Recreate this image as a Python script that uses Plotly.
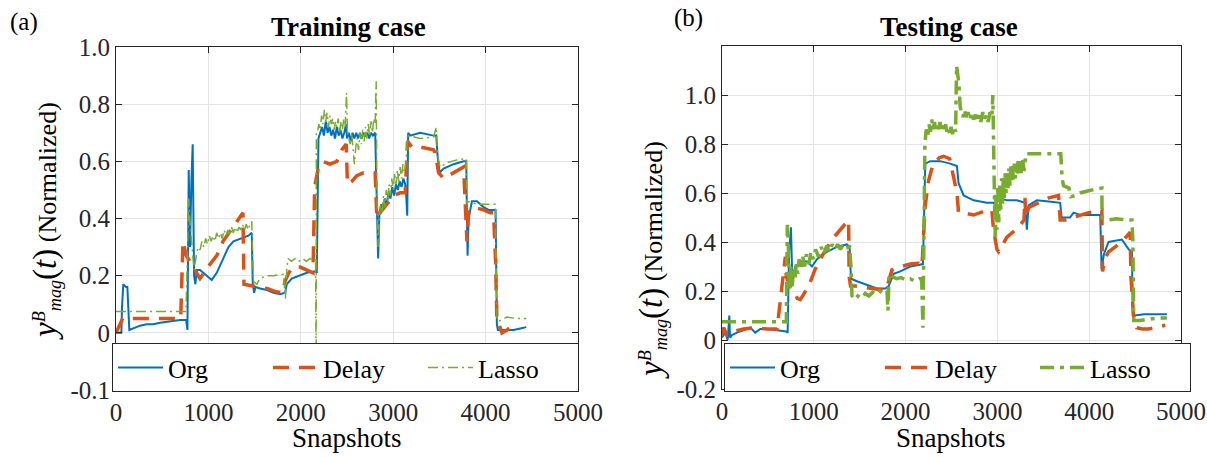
import plotly.graph_objects as go

# ---------------- (a) Training case ----------------
a_org_x = [0, 58, 65, 79, 108, 123, 144, 188, 260, 332, 404, 477, 585, 693, 758, 773, 787, 801, 816, 830, 845, 859, 874,
           910, 982, 1036, 1090, 1162, 1217, 1271, 1343, 1433, 1469, 1480, 1495, 1509, 1560, 1632, 1704, 1776, 1830, 1848,
           1902, 1993, 2065, 2155, 2173, 2191,
           2209, 2230, 2250, 2270, 2290, 2310, 2330, 2350, 2370, 2390, 2410, 2430, 2450, 2470, 2490, 2500, 2520, 2540,
           2560, 2580, 2600, 2620, 2640, 2660, 2680, 2700, 2720, 2740, 2760, 2780, 2805,
           2823, 2837, 2851, 2870, 2890, 2910, 2930, 2950, 2970, 2990, 3010, 3030, 3050, 3070, 3090, 3110, 3130, 3141,
           3152, 3162, 3184, 3292, 3437, 3466, 3480, 3502, 3545, 3653, 3762, 3791, 3798, 3805, 3816, 3852, 3906, 3978,
           4032, 4086, 4108, 4122, 4133, 4195, 4303, 4375, 4440]
a_org_y = [0.0, 0.0, 0.09, 0.17, 0.16, 0.16, 0.01, 0.015, 0.025, 0.03, 0.03, 0.035, 0.04, 0.045, 0.045, 0.01, 0.57, 0.30,
           0.53, 0.66, 0.20, 0.17, 0.22,
           0.22, 0.20, 0.185, 0.21, 0.26, 0.30, 0.32, 0.33, 0.34, 0.35, 0.17, 0.14, 0.16, 0.155, 0.15, 0.14, 0.135, 0.14,
           0.17, 0.19, 0.20, 0.21, 0.215, 0.21, 0.68,
           0.70, 0.72, 0.69, 0.74, 0.70, 0.72, 0.69, 0.71, 0.68, 0.72, 0.69, 0.71, 0.68, 0.70, 0.73, 0.68, 0.70, 0.67,
           0.70, 0.68, 0.70, 0.68, 0.70, 0.68, 0.70, 0.69, 0.70, 0.68, 0.70, 0.69, 0.70,
           0.45, 0.26, 0.42, 0.45, 0.43, 0.47, 0.45, 0.49, 0.47, 0.51, 0.48, 0.52, 0.50, 0.53, 0.51, 0.54, 0.52, 0.48,
           0.41, 0.70, 0.69, 0.70, 0.69, 0.69, 0.62, 0.56, 0.575, 0.59, 0.60, 0.60, 0.40, 0.27, 0.40, 0.46, 0.46, 0.44,
           0.43, 0.43, 0.43, 0.03, 0.01, 0.01, 0.01, 0.015, 0.02]

a_delay_x = [0, 43, 72, 188, 368, 549, 614, 700, 725, 760, 800, 855, 909, 1017, 1090, 1158, 1271, 1374, 1385, 1450,
             1540, 1634, 1720, 1800, 1829, 1870, 1915, 1993, 2067, 2132, 2150, 2190, 2238, 2317, 2390, 2444, 2491,
             2505, 2552, 2606, 2679, 2805, 2823, 2859, 2931, 3004, 3076, 3130, 3155, 3202, 3292, 3437, 3455, 3491,
             3545, 3653, 3726, 3762, 3780, 3798, 3816, 3870, 3978, 4050, 4086, 4108, 4122, 4177, 4231, 4303]
a_delay_y = [0.0, 0.03, 0.05, 0.05, 0.05, 0.05, 0.05, 0.05, 0.32, 0.27, 0.25, 0.22, 0.19, 0.24, 0.27, 0.32, 0.37, 0.42,
             0.17, 0.165, 0.16, 0.155, 0.145, 0.14, 0.18, 0.21, 0.23, 0.23, 0.22, 0.21, 0.51, 0.58, 0.60, 0.59, 0.60,
             0.64, 0.66, 0.52, 0.53, 0.55, 0.56, 0.56, 0.40, 0.42, 0.45, 0.48, 0.49, 0.49, 0.67, 0.65, 0.65, 0.64,
             0.63, 0.56, 0.54, 0.56, 0.57, 0.58, 0.45, 0.32, 0.42, 0.44, 0.43, 0.42, 0.42, 0.25, 0.05, 0.0, 0.01, 0.03]

a_lasso_x = [0, 758, 773, 787, 801, 823, 845, 874, 890, 910, 930, 950, 970, 990, 1010, 1030, 1050, 1070, 1090, 1110,
             1130, 1150, 1170, 1190, 1210, 1230, 1250, 1270, 1290, 1310, 1330, 1350, 1370, 1390, 1410, 1430, 1450,
             1469, 1487, 1523, 1560, 1632, 1704, 1812, 1834, 1848, 1862, 1900, 1940, 1980, 2020, 2060, 2100, 2140,
             2160, 2166, 2168,
             2180, 2195, 2210, 2225, 2240, 2255, 2270, 2285, 2300, 2315, 2330, 2345, 2360, 2375, 2390, 2405, 2420, 2435,
             2450, 2465, 2480, 2495, 2505, 2520, 2535, 2550, 2565, 2580, 2595, 2610, 2625, 2640, 2655, 2670, 2685, 2700,
             2715, 2730, 2745, 2760, 2775, 2790, 2805, 2816, 2823, 2837,
             2850, 2865, 2880, 2895, 2910, 2925, 2940, 2955, 2970, 2985, 3000, 3015, 3030, 3045, 3060, 3075, 3090, 3105,
             3120, 3141, 3150, 3166, 3292, 3437, 3466, 3480, 3509, 3581, 3690, 3791, 3798, 3805, 3906, 4104, 4122, 4140,
             4231, 4339, 4440]
a_lasso_y = [0.075, 0.075, 0.28, 0.47, 0.38, 0.30, 0.22, 0.28, 0.30, 0.29, 0.32, 0.30, 0.33, 0.31, 0.34, 0.32, 0.34,
             0.32, 0.35, 0.33, 0.35, 0.33, 0.36, 0.34, 0.36, 0.34, 0.37, 0.35, 0.37, 0.35, 0.37, 0.36, 0.38, 0.36, 0.38,
             0.36, 0.38, 0.39, 0.18, 0.17, 0.19, 0.20, 0.20, 0.205, 0.12, 0.22, 0.26, 0.25, 0.26, 0.25, 0.26, 0.25, 0.26,
             0.25, 0.26, -0.15, 0.70,
             0.70, 0.73, 0.71, 0.76, 0.73, 0.78, 0.74, 0.77, 0.72, 0.76, 0.73, 0.75, 0.71, 0.74, 0.72, 0.75, 0.70, 0.74,
             0.71, 0.75, 0.72, 0.84, 0.70, 0.68, 0.66, 0.70, 0.64, 0.59, 0.65, 0.68, 0.64, 0.70, 0.66, 0.71, 0.67, 0.72,
             0.68, 0.73, 0.69, 0.74, 0.70, 0.75, 0.73, 0.88, 0.50, 0.30,
             0.40, 0.45, 0.42, 0.48, 0.44, 0.50, 0.46, 0.52, 0.48, 0.54, 0.50, 0.56, 0.52, 0.57, 0.53, 0.58, 0.54, 0.59,
             0.56, 0.60, 0.67, 0.69, 0.68, 0.685, 0.72, 0.62, 0.58, 0.595, 0.605, 0.61, 0.45, 0.46, 0.45, 0.45, 0.05,
             0.04, 0.055, 0.05, 0.05]

# ---------------- (b) Testing case ----------------
b_org_x = [0, 36, 62, 80, 87, 109, 163, 236, 309, 363, 417, 490, 599, 701, 715, 730, 751, 766, 799, 853, 926, 980, 1035,
           1143, 1252, 1361, 1390, 1405, 1470, 1579, 1688, 1779, 1815, 1870, 1942, 2051, 2160, 2189, 2214, 2269, 2378,
           2487, 2559, 2577, 2632, 2741, 2886, 2958, 2977, 3013, 3104, 3213, 3300, 3321, 3340, 3430, 3560, 3684, 3700,
           3790, 3830, 3900, 4120, 4135, 4160, 4211, 4356, 4430, 4465, 4475, 4490, 4600, 4846]
b_org_y = [0.01, 0.03, 0.0, 0.10, 0.01, 0.02, 0.03, 0.04, 0.05, 0.03, 0.045, 0.045, 0.04, 0.035, 0.03, 0.35, 0.46, 0.25,
           0.30, 0.32, 0.32, 0.30, 0.33, 0.36, 0.38, 0.39, 0.38, 0.25, 0.24, 0.225, 0.21, 0.21, 0.22, 0.27, 0.28, 0.30,
           0.31, 0.31, 0.72, 0.73, 0.73, 0.72, 0.71, 0.64, 0.59, 0.57, 0.56, 0.56, 0.55, 0.58, 0.57, 0.57, 0.56, 0.45,
           0.55, 0.57, 0.565, 0.56, 0.50, 0.50, 0.52, 0.51, 0.51, 0.29, 0.35, 0.40, 0.41, 0.37, 0.36, 0.10, 0.10, 0.105,
           0.105]

b_delay_x = [0, 18, 54, 127, 236, 345, 490, 600, 690, 700, 740, 780, 820, 853, 944, 1016, 1100, 1198, 1289, 1379, 1385,
             1400, 1452, 1550, 1650, 1742, 1760, 1800, 1851, 1950, 2050, 2142, 2178, 2195, 2214, 2250, 2300, 2370,
             2414, 2480, 2559, 2577, 2614, 2741, 2886, 2940, 2958, 2995, 3013, 3104, 3231, 3290, 3300, 3310, 3340,
             3450, 3560, 3666, 3684, 3739, 3870, 3993, 4138, 4145, 4170, 4211, 4356, 4447, 4454, 4483, 4519, 4580,
             4646, 4720, 4828]
b_delay_y = [0.02, 0.05, 0.02, 0.035, 0.045, 0.05, 0.045, 0.045, 0.34, 0.26, 0.22, 0.20, 0.17, 0.165, 0.22, 0.29, 0.35,
             0.41, 0.45, 0.49, 0.26, 0.22, 0.22, 0.215, 0.21, 0.205, 0.20, 0.22, 0.286, 0.30, 0.31, 0.313, 0.30, 0.45,
             0.55, 0.65, 0.72, 0.745, 0.75, 0.74, 0.60, 0.52, 0.52, 0.51, 0.53, 0.53, 0.45, 0.37, 0.36, 0.42, 0.46,
             0.49, 0.58, 0.50, 0.54, 0.56, 0.58, 0.59, 0.49, 0.49, 0.505, 0.52, 0.53, 0.28, 0.33, 0.36, 0.40, 0.44,
             0.26, 0.10, 0.05, 0.045, 0.045, 0.05, 0.06]

b_lasso_x = [0, 701, 712, 722, 735, 750, 765, 780, 795, 810, 825, 840, 860, 880, 900, 920, 945, 970, 995, 1020, 1050,
             1080, 1110, 1140, 1170, 1200, 1230, 1260, 1290, 1320, 1350, 1390, 1405, 1416, 1440, 1480, 1520, 1560,
             1600, 1640, 1680, 1720, 1760, 1797, 1808, 1820, 1850, 1900, 1950, 2000, 2050, 2100, 2150, 2175, 2189,
             2200, 2210, 2225, 2240, 2255, 2270, 2285, 2300, 2315, 2330, 2345, 2360, 2375, 2390, 2405, 2420, 2435,
             2450, 2465, 2480, 2495, 2510, 2525, 2545, 2555, 2580, 2595, 2610, 2625, 2640, 2660, 2680, 2700, 2720,
             2740, 2760, 2780, 2800, 2820, 2840, 2860, 2880, 2900, 2920, 2940, 2950, 2962, 2975, 2985, 2995, 3005,
             3015, 3025, 3035, 3045, 3055, 3065, 3075, 3085, 3095, 3105, 3115, 3125, 3135, 3145, 3155, 3165, 3175,
             3185, 3195, 3205, 3215, 3225, 3235, 3245, 3260, 3275, 3290, 3305, 3310, 3400, 3500, 3600, 3690, 3705,
             3720, 3780, 3800, 3850, 3900, 3950, 4000, 4060, 4138, 4140, 4200, 4300, 4400, 4465, 4476, 4485, 4556,
             4650, 4750, 4846]
b_lasso_y = [0.075, 0.075, 0.47, 0.40, 0.20, 0.30, 0.22, 0.29, 0.25, 0.31, 0.27, 0.33, 0.29, 0.34, 0.30, 0.35, 0.31,
             0.36, 0.33, 0.37, 0.34, 0.38, 0.35, 0.385, 0.36, 0.39, 0.37, 0.39, 0.37, 0.39, 0.375, 0.38, 0.30, 0.18,
             0.165, 0.18, 0.17, 0.19, 0.18, 0.195, 0.185, 0.20, 0.19, 0.20, 0.12, 0.27, 0.26, 0.25, 0.255, 0.245, 0.25,
             0.24, 0.25, 0.25, 0.05,
             0.70, 0.80, 0.86, 0.83, 0.88, 0.85, 0.90, 0.86, 0.89, 0.85, 0.88, 0.86, 0.89, 0.85, 0.88, 0.86, 0.88,
             0.85, 0.87, 0.84, 0.87, 0.84, 0.87, 0.85, 1.12, 1.05, 0.95, 0.93, 0.91, 0.94, 0.91, 0.93, 0.90, 0.93,
             0.90, 0.92, 0.89, 0.92, 0.89, 0.93, 0.90, 0.92, 0.89, 0.93, 0.91, 1.00, 0.55, 0.42, 0.60, 0.45, 0.62,
             0.48, 0.64, 0.52, 0.66, 0.55, 0.67, 0.58, 0.68, 0.60, 0.69, 0.62, 0.70, 0.63, 0.71, 0.64, 0.71, 0.65,
             0.72, 0.66, 0.72, 0.67, 0.73, 0.67, 0.73, 0.68, 0.74, 0.69, 0.74, 0.76, 0.76, 0.76, 0.76, 0.76, 0.66,
             0.63, 0.62, 0.585, 0.59, 0.60, 0.605, 0.61, 0.615, 0.62, 0.50, 0.49, 0.495, 0.49, 0.49, 0.40, 0.08, 0.08,
             0.085, 0.09, 0.09]

series_names = ["Org", "Delay", "Lasso"]
a_ytickvals = [-0.2, 0, 0.2, 0.4, 0.6, 0.8, 1.0]
a_yticktext = ["-0.1", "0", "0.2", "0.4", "0.6", "0.8", "1.0"]
b_ytickvals = [-0.2, 0, 0.2, 0.4, 0.6, 0.8, 1.0]
b_yticktext = ["-0.2", "0", "0.2", "0.4", "0.6", "0.8", "1.0"]
xtickvals = [0, 1000, 2000, 3000, 4000, 5000]

BLUE, RED, GREEN = "#0072BD", "#D95319", "#77AC30"
SERIF = "Liberation Serif"
W, H = 1207, 457

fig = go.Figure()

def add_panel(xr, yr, xs, ys, legend, lasso_w, lasso_dash):
    specs = [(BLUE, 2, "solid"), (RED, 3.5, "16px,10px"), (GREEN, lasso_w, lasso_dash)]
    for name, x, y, (c, w, d) in zip(series_names, xs, ys, specs):
        fig.add_trace(go.Scatter(x=x, y=y, mode="lines", name=name, xaxis=xr, yaxis=yr, legend=legend,
                                 line=dict(color=c, width=w, dash=d)))

add_panel("x", "y", [a_org_x, a_delay_x, a_lasso_x], [a_org_y, a_delay_y, a_lasso_y], "legend", 1.5, "10px,4px,2px,4px")
add_panel("x2", "y2", [b_org_x, b_delay_x, b_lasso_x], [b_org_y, b_delay_y, b_lasso_y], "legend2", 3.5, "14px,6px,4px,6px")

def px_x(p):
    return p / W

def px_y(p):
    return 1 - p / H

axis_common = dict(showline=True, linecolor="#262626", linewidth=1, mirror="ticks", ticks="inside", ticklen=6,
                   tickcolor="#262626", showgrid=True, gridcolor="#e4e4e4", gridwidth=1, zeroline=False,
                   tickfont=dict(family=SERIF, size=25, color="#262626"))

legend_common = dict(orientation="h", xanchor="left", yanchor="top", bgcolor="white", bordercolor="#262626",
                     borderwidth=1, entrywidth=95, itemwidth=45, font=dict(family=SERIF, size=26, color="black"))

fig.update_layout(
    width=W, height=H, margin=dict(l=0, r=0, t=0, b=0, autoexpand=False),
    paper_bgcolor="white", plot_bgcolor="white",
    xaxis=dict(domain=[px_x(116), px_x(578)], range=[0, 5000], tickvals=xtickvals, anchor="y", **axis_common),
    yaxis=dict(domain=[px_y(390), px_y(47)], range=[-0.2, 1.0], tickvals=a_ytickvals, ticktext=a_yticktext,
               anchor="x", **axis_common),
    xaxis2=dict(domain=[px_x(722), px_x(1181)], range=[0, 5000], tickvals=xtickvals, anchor="y2", **axis_common),
    yaxis2=dict(domain=[px_y(389), px_y(46)], range=[-0.2, 1.2], tickvals=b_ytickvals, ticktext=b_yticktext,
                anchor="x2", **axis_common),
    legend=dict(x=px_x(112), y=px_y(343), **legend_common),
    legend2=dict(x=px_x(724), y=px_y(343), **legend_common),
    showlegend=True,
)

ylabel = ('<span style="font-size:33px"><i>y</i></span><sup><i>B</i></sup><sub><i>mag</i></sub>'
          '<span style="font-size:33px">(<i>t</i>)</span> (Normalized)')
ann = [
    dict(text="<b>Training case</b>", x=px_x(348), y=px_y(27), yanchor="middle", font=dict(size=27)),
    dict(text="<b>Testing case</b>", x=px_x(949), y=px_y(27), yanchor="middle", font=dict(size=27)),
    dict(text="(a)", x=px_x(24), y=px_y(22), yanchor="middle", font=dict(size=25)),
    dict(text="(b)", x=px_x(688), y=px_y(18), yanchor="middle", font=dict(size=25)),
    dict(text="Snapshots", x=px_x(347), y=px_y(438), yanchor="middle", font=dict(size=27)),
    dict(text="Snapshots", x=px_x(951), y=px_y(438), yanchor="middle", font=dict(size=27)),
    dict(text=ylabel, x=px_x(46), y=px_y(221), yanchor="middle", textangle=-90, font=dict(size=26)),
    dict(text=ylabel, x=px_x(652), y=px_y(260), yanchor="middle", textangle=-90, font=dict(size=26)),
]
for a in ann:
    a.update(xref="paper", yref="paper", showarrow=False, xanchor="center")
    a["font"] = dict(family=SERIF, color="black", **a["font"])
    fig.add_annotation(**a)

fig.write_html("out.html")
